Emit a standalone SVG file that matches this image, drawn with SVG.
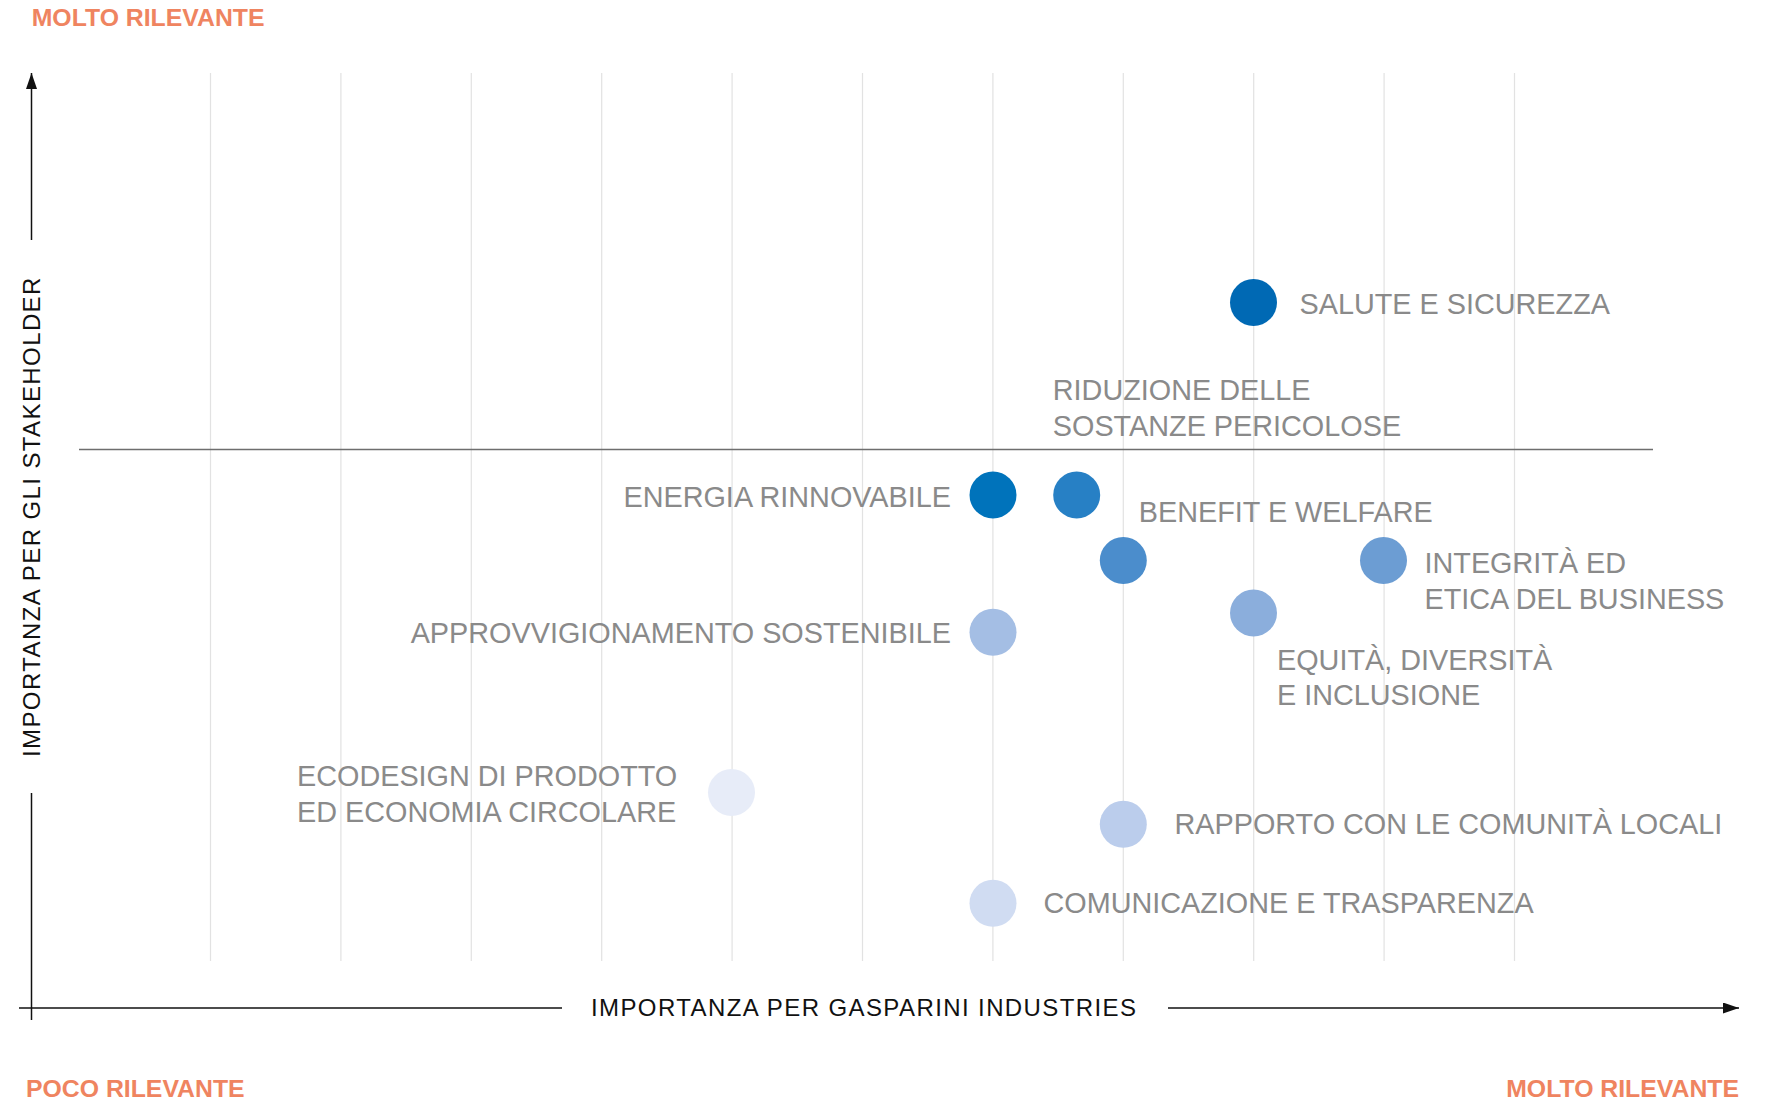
<svg xmlns="http://www.w3.org/2000/svg" width="1775" height="1104" viewBox="0 0 1775 1104">
<defs>
<marker id="arr" markerUnits="userSpaceOnUse" markerWidth="16" markerHeight="11" refX="16" refY="5.5" orient="auto">
<path d="M0,0 L16,5.5 L0,11 z" fill="#111"/>
</marker>
</defs>
<style>
.grid{stroke:#e2e2e2;stroke-width:1.2}
.axis{stroke:#111;stroke-width:1.5;fill:none}
.thr{stroke:#6e6e6e;stroke-width:1.6}
.rel{font-family:"Liberation Sans",Arial,sans-serif;font-weight:bold;font-size:24.8px;fill:#EF8460}
.ax{font-family:"Liberation Sans",Arial,sans-serif;font-size:24px;fill:#111;letter-spacing:1.4px}
.lbl{font-family:"Liberation Sans",Arial,sans-serif;font-size:28.8px;fill:#8a8a8a}
</style>
<rect width="1775" height="1104" fill="#fff"/>
<g id="grid">
<line class="grid" x1="210.5" y1="73" x2="210.5" y2="961"/>
<line class="grid" x1="340.9" y1="73" x2="340.9" y2="961"/>
<line class="grid" x1="471.3" y1="73" x2="471.3" y2="961"/>
<line class="grid" x1="601.7" y1="73" x2="601.7" y2="961"/>
<line class="grid" x1="732.1" y1="73" x2="732.1" y2="961"/>
<line class="grid" x1="862.5" y1="73" x2="862.5" y2="961"/>
<line class="grid" x1="992.9" y1="73" x2="992.9" y2="961"/>
<line class="grid" x1="1123.3" y1="73" x2="1123.3" y2="961"/>
<line class="grid" x1="1253.7" y1="73" x2="1253.7" y2="961"/>
<line class="grid" x1="1384.1" y1="73" x2="1384.1" y2="961"/>
<line class="grid" x1="1514.5" y1="73" x2="1514.5" y2="961"/>
</g>
<g id="connectors">
<line class="axis" x1="31.5" y1="240" x2="31.5" y2="73" marker-end="url(#arr)"/>
<line class="axis" x1="31.5" y1="793" x2="31.5" y2="1020"/>
<line class="axis" x1="19" y1="1008" x2="562" y2="1008"/>
<line class="axis" x1="1168" y1="1008" x2="1739" y2="1008" marker-end="url(#arr)"/>
<line class="thr" x1="79" y1="449.5" x2="1653" y2="449.5"/>
</g>
<g id="axis-labels">
<text class="rel" x="31.7" y="26">MOLTO RILEVANTE</text>
<text class="rel" x="26" y="1096.5">POCO RILEVANTE</text>
<text class="rel" x="1739" y="1096.5" text-anchor="end">MOLTO RILEVANTE</text>
<text class="ax" x="591" y="1016">IMPORTANZA PER GASPARINI INDUSTRIES</text>
<text class="ax" transform="translate(40,757) rotate(-90)">IMPORTANZA PER GLI STAKEHOLDER</text>
</g>
<g id="salute">
<circle cx="1253.5" cy="302.5" r="23.5" fill="#0069B4"/>
<text class="lbl" x="1299.5" y="314">SALUTE E SICUREZZA</text>
</g>
<g id="riduzione">
<circle cx="1076.7" cy="495" r="23.5" fill="#2780C5"/>
<text class="lbl" x="1052.8" y="400">RIDUZIONE DELLE</text>
<text class="lbl" x="1052.8" y="436">SOSTANZE PERICOLOSE</text>
</g>
<g id="energia">
<circle cx="993" cy="495" r="23.5" fill="#0073BB"/>
<text class="lbl" x="951" y="506.5" text-anchor="end">ENERGIA RINNOVABILE</text>
</g>
<g id="benefit">
<circle cx="1123.3" cy="560.5" r="23.5" fill="#4B8DCC"/>
<text class="lbl" x="1138.8" y="521.7">BENEFIT E WELFARE</text>
</g>
<g id="integrita">
<circle cx="1383.5" cy="560.5" r="23.5" fill="#6C9DD3"/>
<text class="lbl" x="1424.5" y="572.7">INTEGRITÀ ED</text>
<text class="lbl" x="1424.5" y="608.5">ETICA DEL BUSINESS</text>
</g>
<g id="equita">
<circle cx="1253.5" cy="613" r="23.5" fill="#8BAEDC"/>
<text class="lbl" x="1277" y="669.5">EQUITÀ, DIVERSITÀ</text>
<text class="lbl" x="1277" y="705">E INCLUSIONE</text>
</g>
<g id="approvvigionamento">
<circle cx="993" cy="632.3" r="23.5" fill="#A4BEE4"/>
<text class="lbl" x="951" y="642.7" text-anchor="end">APPROVVIGIONAMENTO SOSTENIBILE</text>
</g>
<g id="ecodesign">
<circle cx="731.5" cy="792.5" r="23.5" fill="#E7ECF8"/>
<text class="lbl" x="297" y="785.5">ECODESIGN DI PRODOTTO</text>
<text class="lbl" x="297" y="821.7">ED ECONOMIA CIRCOLARE</text>
</g>
<g id="rapporto">
<circle cx="1123.3" cy="824.3" r="23.5" fill="#BBCDEC"/>
<text class="lbl" x="1174.5" y="834">RAPPORTO CON LE COMUNITÀ LOCALI</text>
</g>
<g id="comunicazione">
<circle cx="993" cy="903.3" r="23.5" fill="#D0DCF2"/>
<text class="lbl" x="1043.5" y="912.7">COMUNICAZIONE E TRASPARENZA</text>
</g>
</svg>
